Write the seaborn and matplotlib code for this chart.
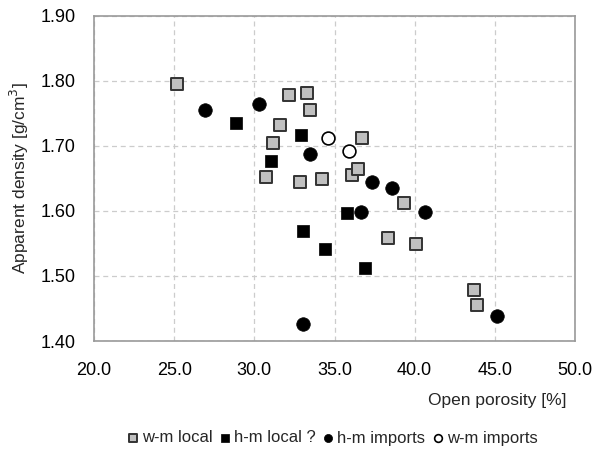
import pandas as pd
import matplotlib
matplotlib.use("Agg")
import matplotlib.pyplot as plt
import seaborn as sns

# data
wm_local_x = [25.17, 32.14, 33.26, 33.49, 31.58, 31.16, 30.70, 32.84, 34.23, 36.73, 36.09, 36.48, 39.35, 38.31, 40.07, 43.69, 43.86]
wm_local_y = [1.795, 1.778, 1.781, 1.756, 1.733, 1.705, 1.653, 1.644, 1.650, 1.712, 1.656, 1.665, 1.613, 1.559, 1.550, 1.478, 1.455]
hm_local_x = [28.85, 32.93, 31.02, 35.75, 33.03, 34.38, 36.91]
hm_local_y = [1.735, 1.717, 1.677, 1.597, 1.569, 1.542, 1.513]
hm_imp_x = [26.92, 30.29, 33.49, 37.35, 38.56, 36.63, 40.64, 33.03, 45.12]
hm_imp_y = [1.755, 1.764, 1.688, 1.644, 1.636, 1.598, 1.598, 1.426, 1.439]
wm_imp_x = [34.61, 35.90]
wm_imp_y = [1.712, 1.692]

x_ticks = [20, 25, 30, 35, 40, 45, 50]
y_ticks = [1.40, 1.50, 1.60, 1.70, 1.80, 1.90]

groups = [
    ("w-m local", wm_local_x, wm_local_y),
    ("h-m local ?", hm_local_x, hm_local_y),
    ("h-m imports", hm_imp_x, hm_imp_y),
    ("w-m imports", wm_imp_x, wm_imp_y),
]
rows = []
for name, xs, ys in groups:
    for a, b in zip(xs, ys):
        rows.append({"porosity": a, "density": b, "group": name})
df = pd.DataFrame(rows)

# marker, face, edge, size, edge width
styles = {
    "w-m local": ("s", "#c0c0c0", "#333333", 78, 1.4),
    "h-m local ?": ("s", "black", "black", 78, 0.5),
    "h-m imports": ("o", "black", "black", 95, 0.5),
    "w-m imports": ("o", "white", "black", 85, 1.2),
}

sns.set_style("white")
plt.rcParams['font.family'] = ['Liberation Sans', 'DejaVu Sans']

fig = plt.figure(figsize=(6.02, 4.59), dpi=100)
ax = fig.add_axes([94 / 602, 1 - 341 / 459, 481 / 602, 325 / 459])

for name, _, _ in groups:
    m, fc, ec, s, lw = styles[name]
    sub = df[df["group"] == name]
    sns.scatterplot(data=sub, x="porosity", y="density", marker=m, color=fc,
                    edgecolor=ec, s=s, linewidth=lw, label=name, ax=ax, zorder=3)

ax.set_xlim(20, 50)
ax.set_ylim(1.40, 1.90)
ax.set_xticks(x_ticks)
ax.set_yticks(y_ticks)
ax.set_xticklabels([f"{t:.1f}" for t in x_ticks])
ax.set_yticklabels([f"{t:.2f}" for t in y_ticks])
ax.grid(True, linestyle=(0, (4, 3)), color="#cccccc", linewidth=0.9)
ax.set_axisbelow(True)
for sp in ax.spines.values():
    sp.set_color("#999999")
    sp.set_linewidth(1.2)
ax.tick_params(axis="both", labelsize=13, colors="#999999", labelcolor="black",
               length=5, width=0.9, direction="out")
ax.tick_params(axis="x", pad=10)
ax.tick_params(axis="y", pad=8)

ax.set_xlabel("")
ax.set_ylabel("Apparent density [g/cm$^3$]", fontsize=12.5)
ax.yaxis.set_label_coords(-0.13, 0.5)
fig.text(567 / 602, 1 - 400 / 459, "Open porosity [%]", ha="right", va="center", fontsize=12.5)

handles, labels = ax.get_legend_handles_labels()
ax.get_legend().remove()
fig.legend(handles, labels, loc="center", bbox_to_anchor=(331 / 602, 1 - 438 / 459),
           ncol=4, frameon=False, fontsize=12, markerscale=0.6,
           handletextpad=0.05, columnspacing=0.25, handlelength=1.0)

fig.savefig("out.png", dpi=100)
